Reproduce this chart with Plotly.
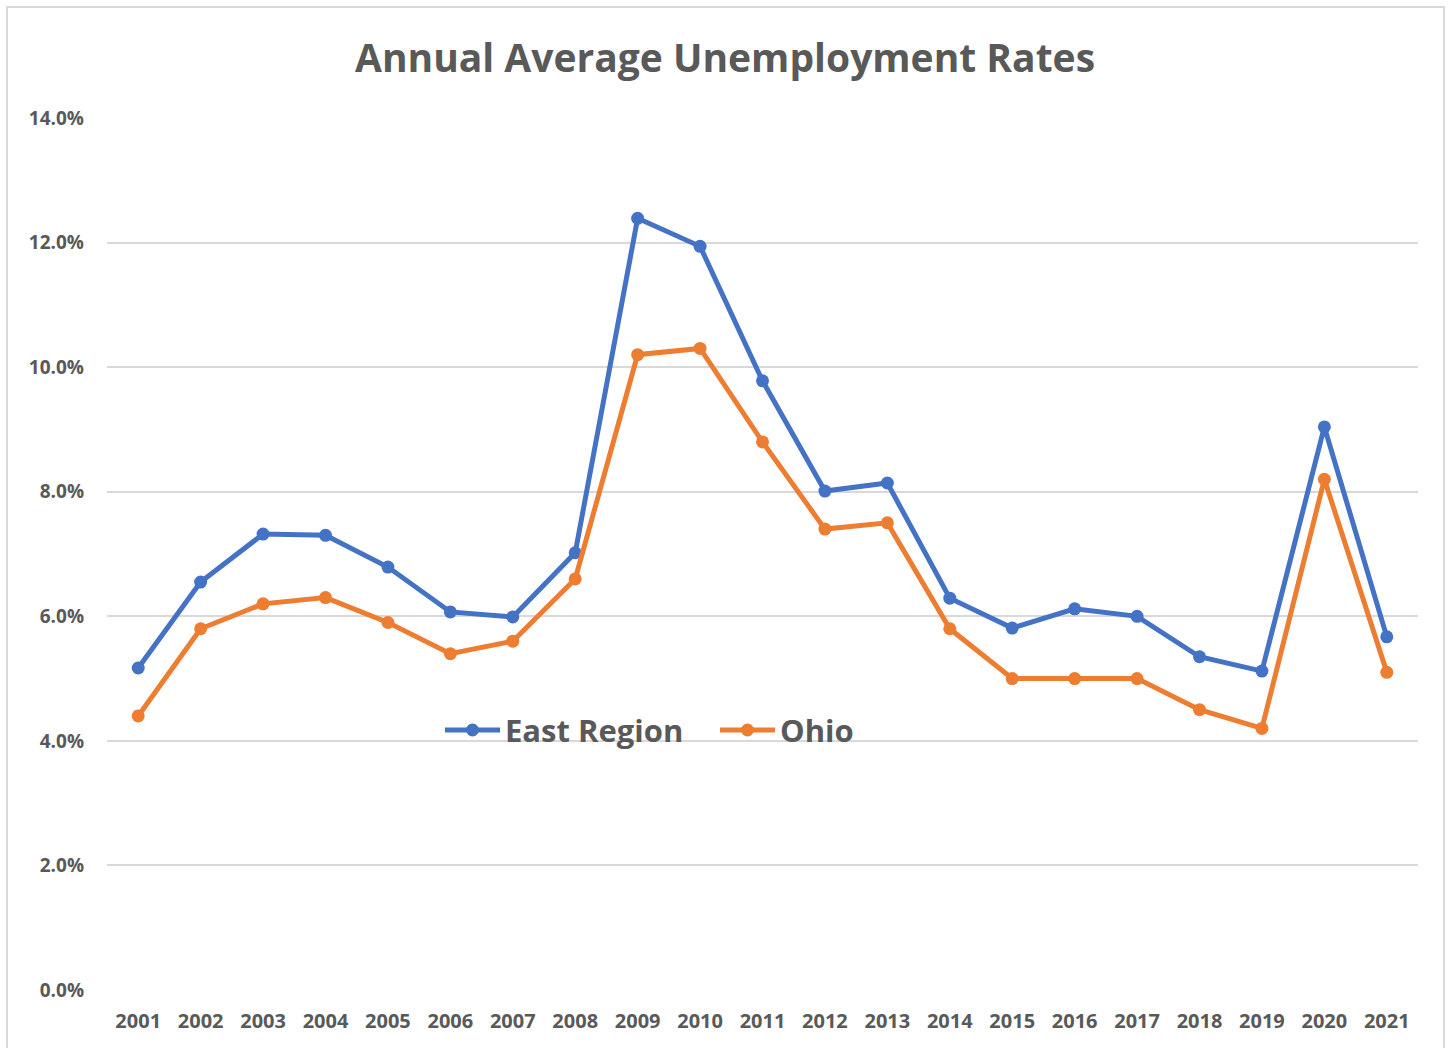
import plotly.graph_objects as go

years = [str(y) for y in range(2001, 2022)]
east_region = [5.17, 6.55, 7.32, 7.30, 6.79, 6.07, 5.99, 7.02, 12.39, 11.94, 9.78,
               8.01, 8.14, 6.29, 5.81, 6.12, 6.00, 5.35, 5.12, 9.04, 5.67]
ohio = [4.4, 5.8, 6.2, 6.3, 5.9, 5.4, 5.6, 6.6, 10.2, 10.3, 8.8,
        7.4, 7.5, 5.8, 5.0, 5.0, 5.0, 4.5, 4.2, 8.2, 5.1]
y_ticks = [0, 2, 4, 6, 8, 10, 12, 14]

BLUE = '#4472C4'
ORANGE = '#ED7D31'
TEXT = '#595959'
FONT = "Open Sans, sans-serif"

fig = go.Figure()
for name, vals, col in [("East Region", east_region, BLUE), ("Ohio", ohio, ORANGE)]:
    fig.add_trace(go.Scatter(
        x=years, y=vals, name=name, mode='lines+markers',
        line=dict(color=col, width=5),
        marker=dict(color=col, size=13),
    ))

# plot area in pixels: x 107..1418, y 118..990
L, R, T, B = 107, 32, 118, 58
W, H = 1450, 1048
pw, ph = W - L - R, H - T - B

def px(x):
    return (x - L) / pw

def py(y):
    return (H - B - y) / ph

# outer chart border
fig.add_shape(type='rect', xref='paper', yref='paper',
              x0=px(7), x1=px(1444), y0=py(1060), y1=py(7),
              line=dict(color='#D9D9D9', width=2), fillcolor='rgba(0,0,0,0)', layer='below')

# legend drawn by hand (Excel-style long symbol)
leg_y = 730
for name, col, x0 in [("East Region", BLUE, 445), ("Ohio", ORANGE, 720)]:
    fig.add_shape(type='line', xref='paper', yref='paper',
                  x0=px(x0), x1=px(x0 + 55), y0=py(leg_y), y1=py(leg_y),
                  line=dict(color=col, width=5))
    fig.add_shape(type='circle', xref='paper', yref='paper',
                  x0=px(x0 + 21), x1=px(x0 + 34), y0=py(leg_y + 6.5), y1=py(leg_y - 6.5),
                  line=dict(color=col, width=0), fillcolor=col)
    fig.add_annotation(text=f"<b>{name}</b>", xref='paper', yref='paper',
                       x=px(x0 + 58), y=py(leg_y), xanchor='left', yanchor='middle',
                       showarrow=False, font=dict(size=31, color=TEXT, family=FONT))

fig.update_layout(
    width=W, height=H,
    margin=dict(l=L, r=R, t=T, b=B),
    paper_bgcolor='white', plot_bgcolor='white',
    font=dict(family=FONT, color=TEXT),
    title=dict(text="<b>Annual Average Unemployment Rates</b>",
               x=0.5, xref='container', xanchor='center', y=1 - 58 / H, yanchor='middle',
               font=dict(size=39, color=TEXT, family=FONT)),
    xaxis=dict(type='category', showgrid=False, showline=False, zeroline=False,
               range=[-0.5, 20.5], tickfont=dict(size=20, color=TEXT, family=FONT, weight='bold'),
               ticks='', ticklabelstandoff=17),
    yaxis=dict(range=[0, 14], tickvals=y_ticks,
               ticktext=[f"{v:.1f}%" for v in y_ticks],
               showgrid=True, gridcolor='#D9D9D9', gridwidth=1.5, zeroline=False,
               tickfont=dict(size=19, color=TEXT, family=FONT, weight='bold'),
               ticks='', ticklabelstandoff=22),
    showlegend=False,
)

fig.write_html("out.html", config={'displayModeBar': False},
               post_script="document.body.style.margin='0';")
